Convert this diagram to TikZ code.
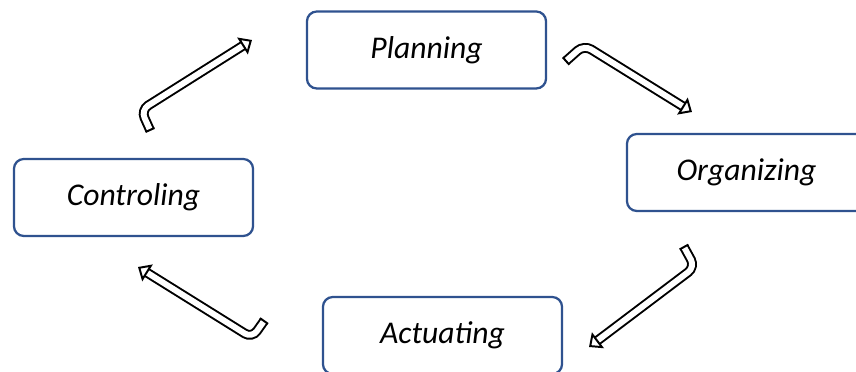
\documentclass[tikz,border=0pt]{standalone}
\usepackage{fontspec}
\setmainfont{Carlito}
\usetikzlibrary{arrows.meta,positioning,calc}
\definecolor{boxblue}{RGB}{47,82,143}
\tikzset{
  stagebox/.style={draw=boxblue, line width=1.6pt, rounded corners=7pt, fill=white,
    minimum width=5.975cm, minimum height=1.925cm, font=\fontsize{22.5}{26}\selectfont\itshape},
  bentarrow/.style={draw=black, line width=1.4pt, double=white, double distance=4.2pt,
    rounded corners=6pt, -{Triangle[length=8pt,width=14pt,fill=white,line width=1.4pt]}},
  tailcap/.style={draw=black, line width=1.4pt}
}

\begin{document}
\begin{tikzpicture}[x=0.025cm,y=-0.025cm]
          \useasboundingbox (0,0) rectangle (856,372);
          % the four stages
          \node[stagebox] (plan) at (426.5,50) {Planning};
          \node[stagebox] (org) at (746.5,172.5) {Organizing};
          \node[stagebox] (act) at (442.5,335.5) {Actuating};
          \node[stagebox] (ctrl) at (133.5,197.5) {Controling};
          % arrow points
          \coordinate (cp0) at (150,130);
          \coordinate (cp1) at (141,110);
          \coordinate (cp2) at (252,40);
          \coordinate (po0) at (566,61);
          \coordinate (po1) at (584,45);
          \coordinate (po2) at (692,112);
          \coordinate (oa0) at (684,247);
          \coordinate (oa1) at (695,267);
          \coordinate (oa2) at (589,347);
          \coordinate (ac0) at (264,321);
          \coordinate (ac1) at (252,338);
          \coordinate (ac2) at (138,267);
          \foreach \a/\b/\c in {cp0/cp1/cp2, po0/po1/po2, oa0/oa1/oa2, ac0/ac1/ac2} {
            \draw[bentarrow] (\a) -- (\b) -- (\c);
            \draw[tailcap] ($(\a)!3.5pt!90:(\b)$) -- ($(\a)!3.5pt!-90:(\b)$);
          }
        \end{tikzpicture}
\end{document}
